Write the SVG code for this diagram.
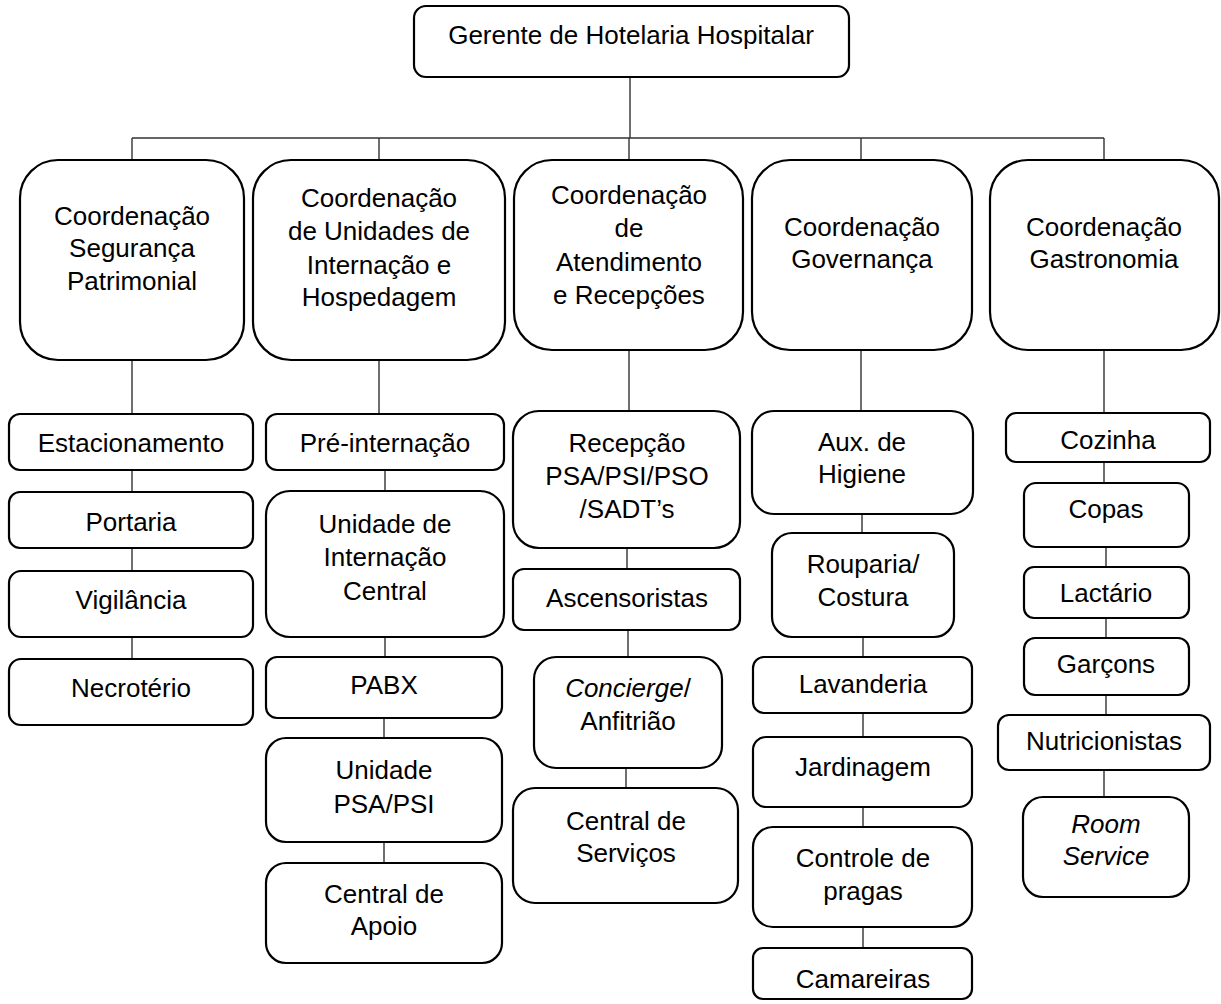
<svg xmlns="http://www.w3.org/2000/svg" width="1221" height="1004" viewBox="0 0 1221 1004">
<style>
.b{fill:#fff;stroke:#000;stroke-width:2.2}
.t{font-family:"Liberation Sans",Arial,sans-serif;font-size:26px;fill:#000;text-anchor:middle}
.i{font-style:italic}
.c{stroke:#333;stroke-width:1.4;fill:none}
</style>
<rect width="1221" height="1004" fill="#fff"/>
<g id="connectors">
<path class="c" d="M630 77V138M132 138H1104M132 138V160M379 138V160M629 138V160M861 138V160M1104 138V160"/>
<path class="c" d="M132 360V414M132 470V492M132 548V571M132 637V659"/>
<path class="c" d="M379 360V414M385 470V491M385 637V657M384 718V738M384 842V863"/>
<path class="c" d="M629 350V411M627 548V569M628 630V657M626 768V788"/>
<path class="c" d="M861 350V411M862 514V533M863 637V657M863 713V737M863 807V827M863 927V948"/>
<path class="c" d="M1104 350V413M1104 462V483M1106 547V567M1106 618V638M1106 695V715M1104 770V797"/>
</g>
<g id="n-gerente"><rect class="b" x="414" y="6" width="435" height="71" rx="12"/><text class="t" x="631" y="44">Gerente de Hotelaria Hospitalar</text></g>
<g id="n-seg"><rect class="b" x="20" y="160" width="224" height="200" rx="38"/><text class="t" x="132" y="225">Coordenação</text><text class="t" x="132" y="257">Segurança</text><text class="t" x="132" y="290">Patrimonial</text></g>
<g id="n-uni"><rect class="b" x="253" y="160" width="252" height="200" rx="38"/><text class="t" x="379" y="207">Coordenação</text><text class="t" x="379" y="240">de Unidades de</text><text class="t" x="379" y="274">Internação e</text><text class="t" x="379" y="306">Hospedagem</text></g>
<g id="n-atd"><rect class="b" x="514" y="160" width="229" height="190" rx="38"/><text class="t" x="629" y="204">Coordenação</text><text class="t" x="629" y="237">de</text><text class="t" x="629" y="271">Atendimento</text><text class="t" x="629" y="304">e Recepções</text></g>
<g id="n-gov"><rect class="b" x="752" y="160" width="220" height="190" rx="38"/><text class="t" x="862" y="236">Coordenação</text><text class="t" x="862" y="268">Governança</text></g>
<g id="n-gas"><rect class="b" x="990" y="160" width="229" height="190" rx="38"/><text class="t" x="1104" y="236">Coordenação</text><text class="t" x="1104" y="268">Gastronomia</text></g>

<g id="n-estac"><rect class="b" x="9" y="414" width="244" height="56" rx="11"/><text class="t" x="131" y="452">Estacionamento</text></g>
<g id="n-port"><rect class="b" x="9" y="492" width="244" height="56" rx="11"/><text class="t" x="131" y="531">Portaria</text></g>
<g id="n-vig"><rect class="b" x="9" y="571" width="244" height="66" rx="12"/><text class="t" x="131" y="609">Vigilância</text></g>
<g id="n-necro"><rect class="b" x="9" y="659" width="244" height="66" rx="12"/><text class="t" x="131" y="697">Necrotério</text></g>

<g id="n-pre"><rect class="b" x="266" y="414" width="238" height="56" rx="11"/><text class="t" x="385" y="452">Pré-internação</text></g>
<g id="n-uic"><rect class="b" x="266" y="491" width="238" height="146" rx="24"/><text class="t" x="385" y="533">Unidade de</text><text class="t" x="385" y="566">Internação</text><text class="t" x="385" y="600">Central</text></g>
<g id="n-pabx"><rect class="b" x="266" y="657" width="236" height="61" rx="11"/><text class="t" x="384" y="694">PABX</text></g>
<g id="n-psa"><rect class="b" x="266" y="738" width="236" height="104" rx="20"/><text class="t" x="384" y="779">Unidade</text><text class="t" x="384" y="813">PSA/PSI</text></g>
<g id="n-apoio"><rect class="b" x="266" y="863" width="236" height="100" rx="20"/><text class="t" x="384" y="903">Central de</text><text class="t" x="384" y="935">Apoio</text></g>

<g id="n-recep"><rect class="b" x="513" y="411" width="227" height="137" rx="26"/><text class="t" x="627" y="452">Recepção</text><text class="t" x="627" y="485">PSA/PSI/PSO</text><text class="t" x="627" y="518">/SADT’s</text></g>
<g id="n-asc"><rect class="b" x="513" y="569" width="227" height="61" rx="11"/><text class="t" x="627" y="607">Ascensoristas</text></g>
<g id="n-conc"><rect class="b" x="534" y="657" width="188" height="111" rx="22"/><text class="t" x="628" y="697"><tspan class="i">Concierge</tspan>/</text><text class="t" x="628" y="730">Anfitrião</text></g>
<g id="n-cserv"><rect class="b" x="513" y="788" width="225" height="115" rx="22"/><text class="t" x="626" y="830">Central de</text><text class="t" x="626" y="862">Serviços</text></g>

<g id="n-aux"><rect class="b" x="752" y="411" width="221" height="103" rx="22"/><text class="t" x="862" y="451">Aux. de</text><text class="t" x="862" y="483">Higiene</text></g>
<g id="n-roup"><rect class="b" x="772" y="533" width="182" height="104" rx="20"/><text class="t" x="863" y="573">Rouparia/</text><text class="t" x="863" y="606">Costura</text></g>
<g id="n-lav"><rect class="b" x="753" y="657" width="219" height="56" rx="11"/><text class="t" x="863" y="693">Lavanderia</text></g>
<g id="n-jard"><rect class="b" x="753" y="737" width="219" height="70" rx="13"/><text class="t" x="863" y="776">Jardinagem</text></g>
<g id="n-prag"><rect class="b" x="753" y="827" width="219" height="100" rx="20"/><text class="t" x="863" y="867">Controle de</text><text class="t" x="863" y="900">pragas</text></g>
<g id="n-cam"><rect class="b" x="753" y="948" width="219" height="51" rx="10"/><text class="t" x="863" y="988">Camareiras</text></g>

<g id="n-coz"><rect class="b" x="1006" y="413" width="204" height="49" rx="10"/><text class="t" x="1108" y="449">Cozinha</text></g>
<g id="n-copas"><rect class="b" x="1024" y="483" width="165" height="64" rx="12"/><text class="t" x="1106" y="518">Copas</text></g>
<g id="n-lact"><rect class="b" x="1024" y="567" width="165" height="51" rx="10"/><text class="t" x="1106" y="602">Lactário</text></g>
<g id="n-garc"><rect class="b" x="1024" y="638" width="165" height="57" rx="11"/><text class="t" x="1106" y="673">Garçons</text></g>
<g id="n-nutri"><rect class="b" x="998" y="715" width="212" height="55" rx="11"/><text class="t" x="1104" y="750">Nutricionistas</text></g>
<g id="n-room"><rect class="b" x="1023" y="797" width="166" height="100" rx="20"/><text class="t i" x="1106" y="833">Room</text><text class="t i" x="1106" y="865">Service</text></g>
</svg>
